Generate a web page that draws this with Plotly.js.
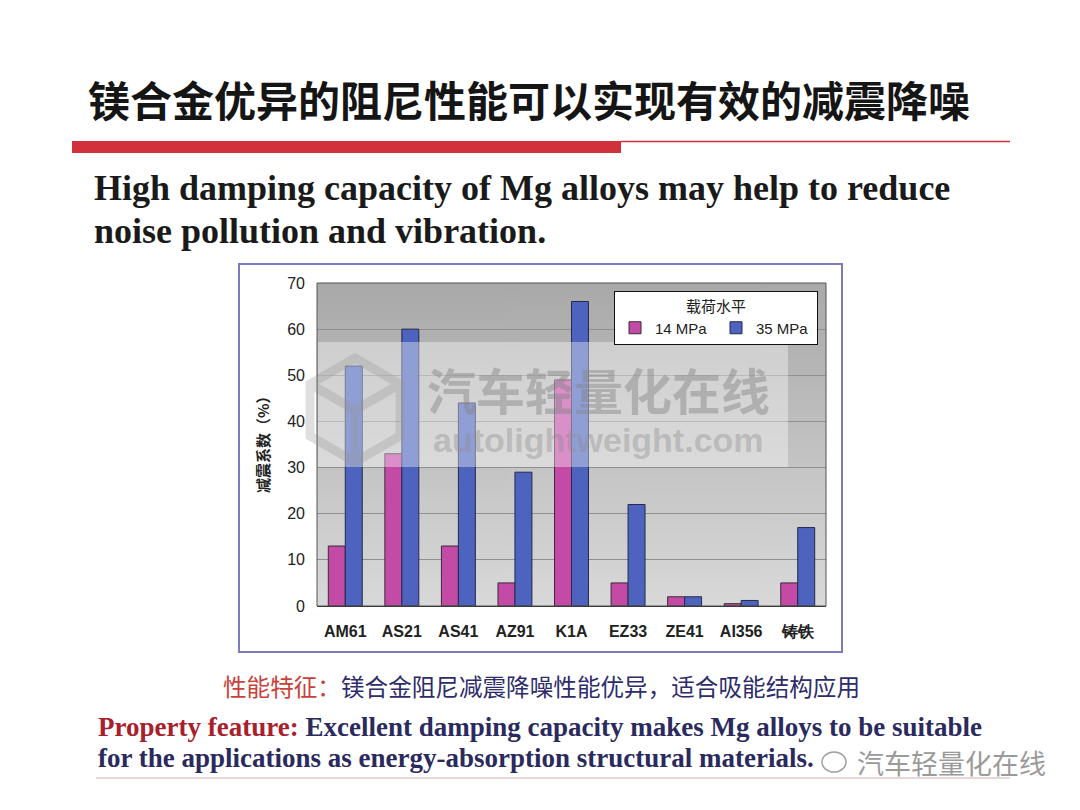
<!DOCTYPE html>
<html>
<head>
<meta charset="utf-8">
<script src="https://cdn.plot.ly/plotly-3.0.1.min.js"></script>
<style>
  body { margin: 0; background: #ffffff; }
  #myPlot { width: 1080px; height: 810px; }
</style>
</head>
<body>
<div id="myPlot"></div>
<script>
// alloys on the x axis
const alloys = ["AM61", "AS21", "AS41", "AZ91", "K1A", "EZ33", "ZE41", "AI356", "铸铁"];
// damping coefficient (%) at each load level
const damping14 = [13, 33, 13, 5, 49, 5, 2, 0.5, 5];
const damping35 = [52, 60, 44, 29, 66, 22, 2, 1.2, 17];
const yTicks = [0, 10, 20, 30, 40, 50, 60, 70];

// plot area in page pixels
const L = 317, R = 826, T = 283, B = 606;
const xp = (px) => (px - L) / (R - L);
const yp = (py) => (B - py) / (B - T);

// gray gradient for the plot background
const cv = document.createElement("canvas");
cv.width = 4;
cv.height = 200;
const ctx = cv.getContext("2d");
const grad = ctx.createLinearGradient(0, 0, 0, 200);
grad.addColorStop(0, "#a9a9a9");
grad.addColorStop(1, "#d9d9d9");
ctx.fillStyle = grad;
ctx.fillRect(0, 0, 4, 200);
const bgUrl = cv.toDataURL();

// faint cube logo of the watermark, as an svg path in paper units
function cubePath(cx, cy, r) {
  const pts = [];
  for (let i = 0; i < 6; i++) {
    const a = Math.PI / 180 * (90 + 60 * i);
    pts.push([cx + r * Math.cos(a), cy - r * Math.sin(a)]);
  }
  let d = "M" + pts.map((p) => xp(p[0]) + "," + yp(p[1])).join(" L") + " Z";
  // inner edges: center to three vertices
  [1, 3, 5].forEach((i) => {
    d += " M" + xp(cx) + "," + yp(cy) + " L" + xp(pts[i][0]) + "," + yp(pts[i][1]);
  });
  return d;
}

const trace1 = {
  x: alloys,
  y: damping14,
  name: "14 MPa",
  type: "bar",
  marker: { color: "#c34ba6", line: { color: "#3a2a3a", width: 1 } },
};
const trace2 = {
  x: alloys,
  y: damping35,
  name: "35 MPa",
  type: "bar",
  marker: { color: "#4d63bd", line: { color: "#232a4a", width: 1 } },
};

const cjk = "Noto Sans CJK SC, sans-serif";
const serif = "Liberation Serif, Times New Roman, serif";
const sans = "Liberation Sans, Arial, sans-serif";

const layout = {
  width: 1080,
  height: 810,
  margin: { l: L, r: 1080 - R, t: T, b: 810 - B },
  paper_bgcolor: "#ffffff",
  plot_bgcolor: "rgba(0,0,0,0)",
  barmode: "group",
  bargap: 0.4,
  bargroupgap: 0,
  showlegend: true,
  legend: {
    x: xp(614),
    y: yp(291),
    xanchor: "left",
    yanchor: "top",
    orientation: "h",
    bgcolor: "#ffffff",
    bordercolor: "#111111",
    borderwidth: 1,
    font: { family: sans, size: 15, color: "#222" },
    title: { text: "载荷水平", side: "top center", font: { family: cjk, size: 15, color: "#222" } },
    entrywidth: 56,
    itemwidth: 30,
    tracegroupgap: 0,
  },
  xaxis: {
    showgrid: false,
    showline: true,
    linecolor: "#222",
    linewidth: 1,
    mirror: false,
    ticks: "",
    ticklabelstandoff: 11,
    tickfont: { family: sans, size: 16, color: "#222", weight: "bold" },
  },
  yaxis: {
    range: [0, 70],
    tickvals: yTicks,
    showgrid: true,
    gridcolor: "#8f8f8f",
    gridwidth: 1,
    zeroline: false,
    showline: false,
    ticks: "",
    ticklabelstandoff: 11,
    tickfont: { family: sans, size: 16, color: "#222" },
  },
  images: [
    {
      source: bgUrl,
      xref: "paper", yref: "paper",
      x: 0, y: 1, sizex: 1, sizey: 1,
      sizing: "stretch",
      layer: "below",
    },
  ],
  shapes: [
    // chart frame
    { type: "rect", xref: "paper", yref: "paper", x0: xp(239), x1: xp(842), y0: yp(264), y1: yp(652),
      line: { color: "#7d7bb9", width: 2 }, layer: "below" },
    // plot outline
    { type: "rect", xref: "paper", yref: "paper", x0: 0, x1: 1, y0: 0, y1: 1,
      line: { color: "#555555", width: 1 }, layer: "above" },
    // red header bar
    { type: "rect", xref: "paper", yref: "paper", x0: xp(72), x1: xp(621), y0: yp(153), y1: yp(141),
      fillcolor: "#d0313a", line: { width: 0 } },
    { type: "line", xref: "paper", yref: "paper", x0: xp(621), x1: xp(1010), y0: yp(141.5), y1: yp(141.5),
      line: { color: "#d0313a", width: 1.5 } },
    // bottom rule
    { type: "line", xref: "paper", yref: "paper", x0: xp(96), x1: xp(1010), y0: yp(778), y1: yp(778),
      line: { color: "#e2c8cc", width: 1.5 } },
    // watermark panel
    { type: "rect", xref: "paper", yref: "paper", x0: xp(318), x1: xp(788), y0: yp(467), y1: yp(342),
      fillcolor: "rgba(255,255,255,0.38)", line: { width: 0 }, layer: "above" },
    // watermark cube
    { type: "path", xref: "paper", yref: "paper", path: cubePath(355, 410, 52),
      line: { color: "rgba(150,150,150,0.3)", width: 9 }, layer: "above" },
    // wechat mark near the bottom watermark
    { type: "circle", xref: "paper", yref: "paper", x0: xp(822), x1: xp(846), y0: yp(772), y1: yp(752),
      line: { color: "#a0a0a0", width: 1.5 } },
  ],
  annotations: [
    { text: "<b>镁合金优异的阻尼性能可以实现有效的减震降噪</b>", xref: "paper", yref: "paper",
      x: xp(86), y: yp(98), xanchor: "left", yanchor: "middle", showarrow: false,
      font: { family: cjk, size: 42, color: "#151515" } },
    { text: "<b>High damping capacity of Mg alloys may help to reduce</b>", xref: "paper", yref: "paper",
      x: xp(92), y: yp(188), xanchor: "left", yanchor: "middle", showarrow: false,
      font: { family: serif, size: 36, color: "#1a1a1a" } },
    { text: "<b>noise pollution and vibration.</b>", xref: "paper", yref: "paper",
      x: xp(92), y: yp(231), xanchor: "left", yanchor: "middle", showarrow: false,
      font: { family: serif, size: 36, color: "#1a1a1a" } },
    { text: "减震系数（%）", xref: "paper", yref: "paper", x: xp(262), y: yp(441),
      xanchor: "center", yanchor: "middle", textangle: -90, showarrow: false,
      font: { family: cjk, size: 15, color: "#222", weight: "bold" } },
    // watermark text
    { text: "<b>汽车轻量化在线</b>", xref: "paper", yref: "paper", x: xp(598), y: yp(388),
      xanchor: "center", yanchor: "middle", showarrow: false,
      font: { family: cjk, size: 49, color: "rgba(130,130,130,0.45)" } },
    { text: "<b>autolightweight.com</b>", xref: "paper", yref: "paper", x: xp(598), y: yp(440),
      xanchor: "center", yanchor: "middle", showarrow: false,
      font: { family: sans, size: 34, color: "rgba(140,140,140,0.4)" } },
    // captions
    { text: "<span style=\"color:#c8413a\">性能特征：</span>镁合金阻尼减震降噪性能优异，适合吸能结构应用",
      xref: "paper", yref: "paper", x: xp(221), y: yp(686), xanchor: "left", yanchor: "middle", showarrow: false,
      font: { family: cjk, size: 23.6, color: "#2e2c6a" } },
    { text: "<b><span style=\"color:#a8202c\">Property feature:</span> Excellent damping capacity makes Mg alloys to be suitable</b>",
      xref: "paper", yref: "paper", x: xp(96), y: yp(727), xanchor: "left", yanchor: "middle", showarrow: false,
      font: { family: serif, size: 27, color: "#2b2a5e" } },
    { text: "<b>for the applications as energy-absorption structural materials.</b>",
      xref: "paper", yref: "paper", x: xp(96), y: yp(758), xanchor: "left", yanchor: "middle", showarrow: false,
      font: { family: serif, size: 27, color: "#2b2a5e" } },
    { text: "汽车轻量化在线", xref: "paper", yref: "paper", x: xp(855), y: yp(762),
      xanchor: "left", yanchor: "middle", showarrow: false,
      font: { family: cjk, size: 27, color: "#9a9a9a" } },
  ],
};

Plotly.newPlot("myPlot", [trace1, trace2], layout, { staticPlot: true });
</script>
</body>
</html>
